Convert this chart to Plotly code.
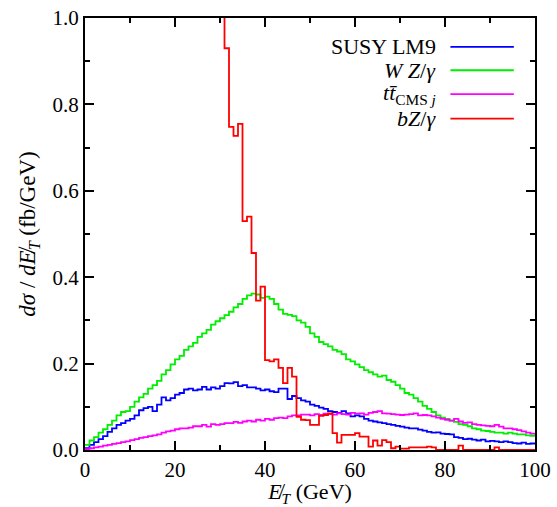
import plotly.graph_objects as go

# bin edges (GeV), 1 GeV bins from 0 to 100
edges = list(range(0, 101))

susy_lm9 = [0.004, 0.012, 0.018, 0.025, 0.032, 0.042, 0.050, 0.058, 0.062, 0.068,
            0.072, 0.080, 0.092, 0.097, 0.100, 0.090, 0.105, 0.122, 0.115, 0.120,
            0.128, 0.132, 0.140, 0.142, 0.138, 0.140, 0.146, 0.140, 0.145, 0.142,
            0.148, 0.155, 0.154, 0.157, 0.148, 0.150, 0.145, 0.145, 0.142, 0.138,
            0.140, 0.136, 0.134, 0.142, 0.142, 0.118, 0.125, 0.120, 0.115, 0.112,
            0.105, 0.102, 0.098, 0.095, 0.090, 0.088, 0.086, 0.090, 0.085, 0.078,
            0.080, 0.078, 0.072, 0.068, 0.066, 0.064, 0.062, 0.060, 0.058, 0.056,
            0.054, 0.052, 0.050, 0.050, 0.047, 0.045, 0.042, 0.040, 0.041, 0.038,
            0.037, 0.036, 0.030, 0.028, 0.025, 0.026, 0.024, 0.022, 0.024, 0.020,
            0.021, 0.020, 0.018, 0.020, 0.018, 0.016, 0.015, 0.017, 0.014, 0.015]

wz_gamma = [0.012, 0.022, 0.030, 0.040, 0.048, 0.058, 0.068, 0.080, 0.088, 0.090,
            0.100, 0.112, 0.122, 0.130, 0.142, 0.150, 0.160, 0.175, 0.185, 0.198,
            0.210, 0.218, 0.232, 0.240, 0.248, 0.262, 0.270, 0.278, 0.290, 0.298,
            0.305, 0.312, 0.320, 0.330, 0.338, 0.350, 0.358, 0.362, 0.360, 0.352,
            0.355, 0.350, 0.338, 0.325, 0.315, 0.313, 0.310, 0.300, 0.295, 0.285,
            0.270, 0.262, 0.250, 0.245, 0.240, 0.232, 0.228, 0.222, 0.210, 0.205,
            0.198, 0.192, 0.185, 0.180, 0.175, 0.170, 0.172, 0.162, 0.158, 0.150,
            0.142, 0.132, 0.128, 0.120, 0.112, 0.102, 0.095, 0.088, 0.080, 0.075,
            0.072, 0.068, 0.065, 0.060, 0.058, 0.055, 0.050, 0.048, 0.045, 0.044,
            0.042, 0.040, 0.040, 0.038, 0.040, 0.038, 0.036, 0.036, 0.034, 0.033]

ttbar_cms = [0.002, 0.004, 0.006, 0.008, 0.010, 0.012, 0.014, 0.016, 0.018, 0.020,
             0.023, 0.025, 0.028, 0.030, 0.032, 0.034, 0.036, 0.040, 0.043, 0.045,
             0.048, 0.050, 0.050, 0.052, 0.055, 0.055, 0.058, 0.054, 0.060, 0.058,
             0.060, 0.062, 0.062, 0.065, 0.063, 0.066, 0.068, 0.066, 0.070, 0.068,
             0.072, 0.070, 0.074, 0.075, 0.074, 0.078, 0.080, 0.080, 0.082, 0.082,
             0.080, 0.083, 0.081, 0.084, 0.083, 0.082, 0.085, 0.083, 0.082, 0.086,
             0.084, 0.085, 0.082, 0.086, 0.088, 0.090, 0.085, 0.084, 0.083, 0.082,
             0.081, 0.082, 0.083, 0.085, 0.080, 0.081, 0.080, 0.078, 0.075, 0.072,
             0.070, 0.068, 0.072, 0.066, 0.063, 0.064, 0.060, 0.058, 0.057, 0.056,
             0.055, 0.058, 0.054, 0.050, 0.050, 0.048, 0.046, 0.043, 0.040, 0.038]

bz_gamma = [9.0, 8.2, 7.5, 6.8, 6.2, 5.7, 5.2, 4.8, 4.4, 4.0,
            3.7, 3.4, 3.1, 2.9, 2.7, 2.5, 2.3, 2.1, 2.0, 1.85,
            1.7, 1.6, 1.5, 1.42, 1.35, 1.28, 1.22, 1.16, 1.11, 1.06,
            1.02, 0.930, 0.748, 0.727, 0.755, 0.530, 0.540, 0.456, 0.346, 0.378,
            0.208, 0.205, 0.210, 0.190, 0.155, 0.190, 0.170, 0.077, 0.070, 0.069,
            0.058, 0.058, 0.079, 0.081, 0.085, 0.039, 0.017, 0.035, 0.035, 0.035,
            0.039, 0.031, 0.031, 0.008, 0.022, 0.010, 0.023, 0.018, 0.004, 0.008,
            0.003, 0.003, 0.006, 0.006, 0.006, 0.006, 0.008, 0.006, 0.000, 0.000,
            0.000, 0.000, 0.000, 0.010, 0.000, 0.000, 0.000, 0.000, 0.000, 0.000,
            0.000, 0.006, 0.000, 0.000, 0.000, 0.000, 0.000, 0.000, 0.000, 0.000]

series_names = ["SUSY LM9", "<i>W Z</i>/<i>γ</i>",
                "<i>t</i><i>t̄</i><sub>CMS <i>j</i></sub>", "<i>bZ</i>/<i>γ</i>"]
series_values = [susy_lm9, wz_gamma, ttbar_cms, bz_gamma]
colors = ["#0000ff", "#00ee00", "#ff00ff", "#ff0000"]

FONT = "Times New Roman, Liberation Serif, DejaVu Serif, serif"

fig = go.Figure()
for name, vals, col in zip(series_names, series_values, colors):
    fig.add_trace(go.Scatter(
        x=edges, y=list(vals) + [vals[-1]],
        mode="lines", line=dict(shape="hv", color=col, width=1.8),
        name=name, showlegend=False, hoverinfo="skip"))

# custom legend (text right, line sample to the right)
leg_y = [0.933, 0.879, 0.824, 0.767]
for name, col, yy in zip(series_names, colors, leg_y):
    fig.add_annotation(xref="paper", yref="paper", x=0.785, y=yy,
                       text=name, showarrow=False, xanchor="right",
                       yanchor="middle", font=dict(family=FONT, size=22, color="black"))
    fig.add_shape(type="line", xref="paper", yref="paper",
                  x0=0.812, x1=0.953, y0=yy, y1=yy,
                  line=dict(color=col, width=1.8))

axis_common = dict(showline=True, linecolor="black", linewidth=2, mirror="ticks",
                   ticks="inside", tickcolor="black", tickwidth=2,
                   showgrid=False, zeroline=False, automargin=False,
                   tickfont=dict(family=FONT, size=21, color="black"))

fig.update_xaxes(range=[0, 100], dtick=20, ticklen=9,
                 minor=dict(dtick=10, ticks="inside", ticklen=5, tickcolor="black", tickwidth=2),
                 title=dict(text="<i>E̸</i><sub><i>T</i></sub> (GeV)",
                            font=dict(family=FONT, size=22, color="black"), standoff=0),
                 **axis_common)
fig.update_yaxes(range=[0, 1.0], dtick=0.2, tickformat=".1f", ticklen=9,
                 minor=dict(dtick=0.1, ticks="inside", ticklen=5, tickcolor="black", tickwidth=2),
                 title=dict(text="<i>dσ</i> / <i>d</i><i>E̸</i><sub><i>T</i></sub> (fb/GeV)",
                            font=dict(family=FONT, size=23, color="black"), standoff=10),
                 **axis_common)

fig.update_layout(width=557, height=507,
                  margin=dict(l=85, r=22, t=18, b=57),
                  paper_bgcolor="white", plot_bgcolor="white",
                  font=dict(family=FONT, color="black"))

fig.write_html("out.html")
